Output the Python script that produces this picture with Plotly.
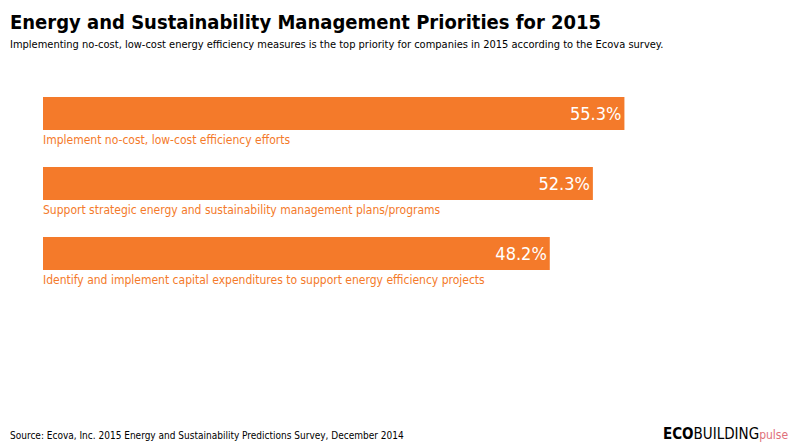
import plotly.graph_objects as go

categories = [
    "Implement no-cost, low-cost efficiency efforts",
    "Support strategic energy and sustainability management plans/programs",
    "Identify and implement capital expenditures to support energy efficiency projects",
]
values = [55.3, 52.3, 48.2]
positions = [0, 1, 2]

ORANGE = "#f47a2a"
COND = "DejaVu Sans Condensed, Liberation Sans Narrow, Arial Narrow, sans-serif"
PW = 757  # plot width in px

fig = go.Figure(go.Bar(
    x=values, y=positions, orientation="h", width=0.47,
    marker=dict(color=ORANGE, line=dict(width=0)),
    text=[f"{v}%" for v in values], textposition="inside",
    insidetextanchor="end",
    textfont=dict(color="white", size=18, family=COND),
    hoverinfo="skip",
))

for p, c in zip(positions, categories):
    fig.add_annotation(x=0, y=p + 0.38, text=c, showarrow=False,
                       xanchor="left", yanchor="middle", xshift=-2,
                       font=dict(color=ORANGE, size=12, family=COND))

fig.add_annotation(xref="paper", yref="paper", x=-35 / PW, y=1, yshift=0,
                   text="<b>Energy and Sustainability Management Priorities for 2015</b>",
                   showarrow=False, xanchor="left", yanchor="top",
                   font=dict(size=20, color="black", family=COND))
fig.add_annotation(xref="paper", yref="paper", x=-35 / PW, y=1, yshift=-28,
                   text="Implementing no-cost, low-cost energy efficiency measures is the top priority for companies in 2015 according to the Ecova survey.",
                   showarrow=False, xanchor="left", yanchor="top",
                   font=dict(size=11, color="black", family=COND))
fig.add_annotation(xref="paper", yref="paper", x=-35 / PW, y=0, yshift=2,
                   text="Source: Ecova, Inc. 2015 Energy and Sustainability Predictions Survey, December 2014",
                   showarrow=False, xanchor="left", yanchor="bottom",
                   font=dict(size=10, color="black", family=COND))
fig.add_annotation(xref="paper", yref="paper", x=1, xshift=-10, y=0, yshift=0,
                   text="<b>ECO</b>BUILDING<span style='color:#e0707a;font-size:12px'>pulse</span>",
                   showarrow=False, xanchor="right", yanchor="bottom",
                   font=dict(size=15, color="black", family=COND))

fig.update_layout(
    width=792, height=437,
    margin=dict(l=35, r=0, t=0, b=0),
    paper_bgcolor="white", plot_bgcolor="white",
    showlegend=False,
    xaxis=dict(range=[0, 72], visible=False, fixedrange=True),
    yaxis=dict(range=[4.736, -1.507], visible=False, fixedrange=True),
)

fig.write_html("out.html")
